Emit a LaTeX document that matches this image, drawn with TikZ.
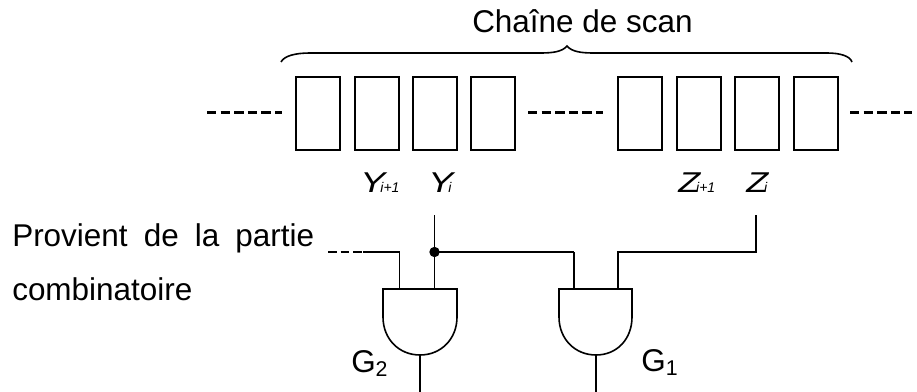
\documentclass[tikz,border=0pt]{standalone}
\usepackage{graphicx}
\usepackage{fontspec}
\setmainfont{Liberation Sans}
\newcommand{\txtsize}{\fontsize{23.6pt}{28pt}\selectfont}
\newcommand{\lblsize}{\fontsize{21.5pt}{26pt}\selectfont\itshape}
\newcommand{\subsize}{\fontsize{10.5pt}{12pt}\selectfont\itshape}
\begin{document}
\begin{tikzpicture}[x=0.75pt,y=-0.75pt,
  cell/.style={draw,line width=1.2pt,minimum width=33pt,minimum height=54.5pt,inner sep=0pt,anchor=north west},
  wire/.style={line width=1.2pt},
  heavywire/.style={line width=1.9pt},
  dashwire/.style={line width=1.9pt,dash pattern=on 7pt off 3.2pt},
  gate/.style={line width=1.2pt},
  lbl/.style={inner sep=0pt,anchor=base west}]
\useasboundingbox (0,0) rectangle (917,392);
% cells
\foreach \n/\x in {a/295,b/354,c/412,d/470,e/617,f/676,g/734,h/793}
  \node[cell] (\n) at (\x,76.5) {};
% dashed chain
\coordinate (dl0) at (207,112.5);
\coordinate (dl1) at (282,112.5);
\coordinate (dm0) at (528,112.5);
\coordinate (dm1) at (603,112.5);
\coordinate (dr0) at (850,112.5);
\coordinate (dr1) at (912,112.5);
\draw[dashwire] (dl0) -- (dl1);
\draw[dashwire] (dm0) -- (dm1);
\draw[dashwire] (dr0) -- (dr1);
% brace
\draw[wire] (281,62) .. controls (284,56) and (295,53) .. (310,53) -- (540,53)
  .. controls (552,53) and (562,52) .. (567,46)
  .. controls (572,52) and (582,53) .. (594,53) -- (827,53)
  .. controls (840,53) and (850,56) .. (852,62);
% labels
\node[lbl] (title) at (472,33) {\txtsize Chaîne de scan};
\node[lbl] (prov) at (12,246) {\txtsize\makebox[226.5pt][s]{Provient\hfill de\hfill la\hfill partie}};
\node[lbl] (comb) at (12,300) {\txtsize combinatoire};
\node[lbl] (yy1) at (360,193) {\scalebox{1.3}[1]{\lblsize Y}\kern-3.5pt\subsize i+1};
\node[lbl] (yy0) at (428,193) {\scalebox{1.3}[1]{\lblsize Y}\kern-3.5pt\subsize i};
\node[lbl] (zz1) at (678,193) {\scalebox{1.25}[1]{\lblsize Z}\kern-3pt\subsize i+1};
\node[lbl] (zz0) at (746,193) {\scalebox{1.25}[1]{\lblsize Z}\kern-3pt\subsize i};
\node[lbl] (g2) at (351,372) {\txtsize G\raisebox{-3.5pt}{\fontsize{16pt}{18pt}\selectfont 2}};
\node[lbl] (g1) at (641,371) {\txtsize G\raisebox{-3.5pt}{\fontsize{16pt}{18pt}\selectfont 1}};
% gates
\coordinate (G2nw) at (383,289);
\coordinate (G2ne) at (457,289);
\coordinate (G2s) at (420,355);
\coordinate (G1nw) at (559,289);
\coordinate (G1ne) at (632,289);
\coordinate (G1s) at (596,355);
\draw[gate] (G2nw) -- (G2ne) -- (457,317) .. controls (457,339) and (441,355) .. (G2s)
  .. controls (399,355) and (383,339) .. (383,317) -- cycle;
\draw[gate] (G1nw) -- (G1ne) -- (632,317) .. controls (632,339) and (617,355) .. (G1s)
  .. controls (575,355) and (559,339) .. (559,317) -- cycle;
% wires
\coordinate (cin0) at (328,252);
\coordinate (cin1) at (363,252);
\coordinate (yt) at (434.5,215);
\coordinate (yb) at (434.5,289);
\coordinate (junc) at (434.5,252);
\coordinate (zt) at (756,215);
\coordinate (g2a) at (399.5,289);
\coordinate (g1a) at (574,289);
\coordinate (g1b) at (618,289);
\coordinate (o2) at (420,392);
\coordinate (o1) at (596,392);
\draw[line width=1.9pt,dash pattern=on 6.5pt off 3pt] (cin0) -- (cin1);
\draw[wire] (cin1) -| (g2a);
\draw[wire] (yt) -- (yb);
\draw[heavywire] (junc) -- (g1a |- junc);
\draw[wire] (g1a |- junc) -- (g1a);
\draw[wire] (zt) |- (g1b |- junc) -- (g1b);
\draw[wire] (G2s) -- (o2);
\draw[wire] (G1s) -- (o1);
\fill (junc) circle (5.2);
\end{tikzpicture}
\end{document}
